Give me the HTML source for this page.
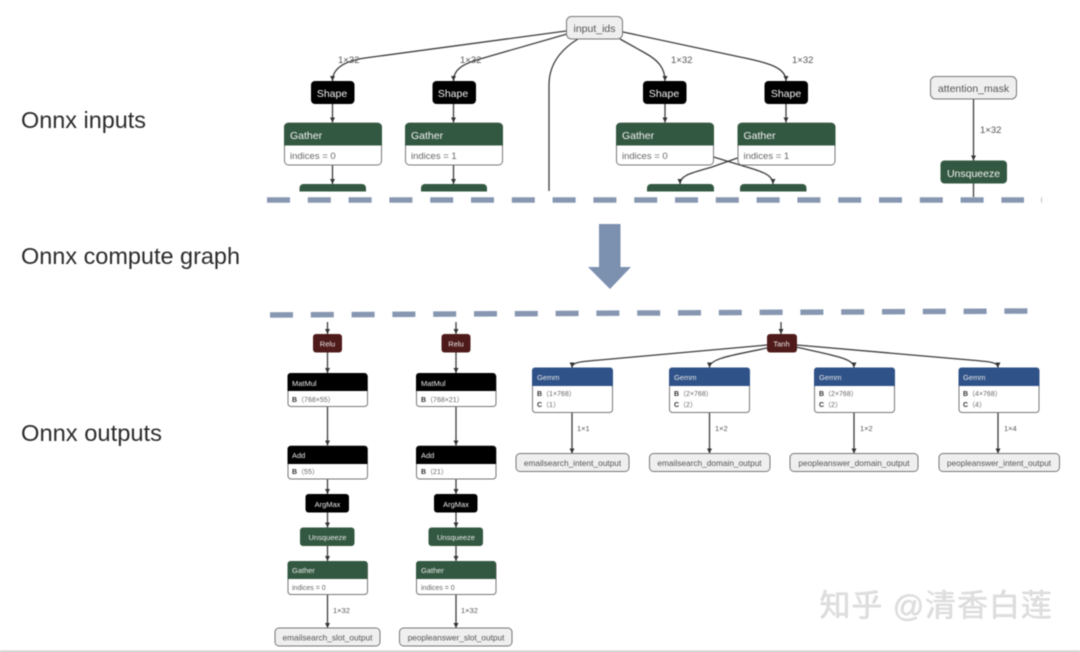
<!DOCTYPE html>
<html><head><meta charset="utf-8"><style>
html,body{margin:0;padding:0;background:#fff;width:1080px;height:652px;overflow:hidden}
#w{position:relative;width:1080px;height:652px;overflow:hidden;filter:blur(.4px)}
svg{position:absolute;left:0;top:0}
text{font-family:"Liberation Sans","Noto Sans CJK SC",sans-serif}
.h{font-size:23px;fill:#2b2b2b}
.e{fill:none;stroke:#3c3c3c;stroke-width:1.3}
.lb{font-size:9.5px;fill:#555}
.wt{font-size:10.5px;fill:#f2f2f2}
.gt{font-size:9.5px;fill:#666}
.st{font-size:7.5px;fill:#e8e8e8}
.ss{font-size:7px;fill:#666}
.mid{text-anchor:middle}
.io{fill:#efefef;stroke:#777;stroke-width:1}
.ol{font-size:8.3px;fill:#555;text-anchor:middle}
.in{font-size:10.5px;fill:#555;text-anchor:middle}
#wm{position:absolute;left:819px;top:586px;font:31px/40px "Liberation Sans","Noto Sans CJK SC",sans-serif;color:#dfdfdf;text-shadow:.6px .6px 0 #cfcfcf;white-space:nowrap;letter-spacing:.9px}
</style></head><body><div id="w">
<svg width="1080" height="652" viewBox="0 0 1080 652">
<defs>
<marker id="a" markerUnits="userSpaceOnUse" markerWidth="6" markerHeight="5" refX="5" refY="2.500" orient="auto"><path d="M0 0L5 2.500L0 5z" fill="#333"/></marker>
</defs>

<text class="h" x="21" y="128" textLength="125" lengthAdjust="spacingAndGlyphs">Onnx inputs</text>
<text class="h" x="21" y="264" textLength="219" lengthAdjust="spacingAndGlyphs">Onnx compute graph</text>
<text class="h" x="21" y="441" textLength="141" lengthAdjust="spacingAndGlyphs">Onnx outputs</text>

<!-- top edges -->
<g class="e">
<path marker-end="url(#a)" d="M566 31L365 58C345 61 332.500 68 332.500 81"/>
<path marker-end="url(#a)" d="M567 34L480 59C462 64 453.500 70 453.500 81"/>
<path d="M578 39C560 50 549 65 549 85V191"/>
<path marker-end="url(#a)" d="M620 39L645 53C658 60 665 68 665 81"/>
<path marker-end="url(#a)" d="M623 32L740 57C770 63 786 68 786 81"/>
<path marker-end="url(#a)" d="M332.500 104V122.500"/>
<path marker-end="url(#a)" d="M453.500 104V122.500"/>
<path marker-end="url(#a)" d="M665 104V122.500"/>
<path marker-end="url(#a)" d="M786 104V122.500"/>
<path marker-end="url(#a)" d="M332.500 165V184"/>
<path marker-end="url(#a)" d="M453.500 165V184"/>
<path marker-end="url(#a)" d="M713.500 157L740 165C760 171 773 174 773 184"/>
<path marker-end="url(#a)" d="M737.500 158L712 167C692 173 680 175 680 184"/>
<path marker-end="url(#a)" d="M973.500 99V160.500"/>
<path d="M973.500 183.500V197"/>
</g>
<g class="lb">
<text x="338" y="63">1×32</text><text x="460" y="63">1×32</text><text x="671" y="63">1×32</text><text x="792" y="63">1×32</text><text x="980" y="133">1×32</text>
</g>

<!-- top nodes -->
<rect class="io" x="566.500" y="16.500" width="56" height="22.500" rx="5"/><text class="in" x="594.500" y="32">input_ids</text>
<rect class="io" x="930.500" y="76.500" width="86" height="22.500" rx="5"/><text class="in" x="973.500" y="92">attention_mask</text>

<g fill="#000">
<rect x="311" y="81" width="43.500" height="23" rx="4"/><rect x="432.500" y="81" width="43.500" height="23" rx="4"/><rect x="643" y="81" width="43.500" height="23" rx="4"/><rect x="764.500" y="81" width="43.500" height="23" rx="4"/>
</g>
<g class="wt mid" fill="#eee">
<text class="wt mid" x="332" y="97">Shape</text><text class="wt mid" x="453" y="97">Shape</text><text class="wt mid" x="664" y="97">Shape</text><text class="wt mid" x="786" y="97">Shape</text>
</g>

<g>
<rect x="284.500" y="123" width="97" height="42" rx="4" fill="#fff" stroke="#777"/><path d="M284 145.500V127a4 4 0 0 1 4-4h90a4 4 0 0 1 4 4v18.500z" fill="#335841"/>
<rect x="405.500" y="123" width="97" height="42" rx="4" fill="#fff" stroke="#777"/><path d="M405 145.500V127a4 4 0 0 1 4-4h90a4 4 0 0 1 4 4v18.500z" fill="#335841"/>
<rect x="616.500" y="123" width="97" height="42" rx="4" fill="#fff" stroke="#777"/><path d="M616 145.500V127a4 4 0 0 1 4-4h90a4 4 0 0 1 4 4v18.500z" fill="#335841"/>
<rect x="738" y="123" width="97" height="42" rx="4" fill="#fff" stroke="#777"/><path d="M737.500 145.500V127a4 4 0 0 1 4-4h90a4 4 0 0 1 4 4v18.500z" fill="#335841"/>
</g>
<g class="wt">
<text x="290" y="139">Gather</text><text x="411" y="139">Gather</text><text x="622" y="139">Gather</text><text x="743.500" y="139">Gather</text>
</g>
<g class="gt">
<text x="290" y="159">indices = 0</text><text x="411" y="159">indices = 1</text><text x="622" y="159">indices = 0</text><text x="743.500" y="159">indices = 1</text>
</g>
<g fill="#335841">
<path d="M299.500 191.500V188a4 4 0 0 1 4-4h58.500a4 4 0 0 1 4 4v3.500z"/>
<path d="M421 191.500V188a4 4 0 0 1 4-4h58a4 4 0 0 1 4 4v3.500z"/>
<path d="M647 191.500V188a4 4 0 0 1 4-4h59a4 4 0 0 1 4 4v3.500z"/>
<path d="M740 191.500V188a4 4 0 0 1 4-4h58.500a4 4 0 0 1 4 4v3.500z"/>
<rect x="940.500" y="160.500" width="66.500" height="23" rx="4"/>
</g>
<text class="wt mid" x="973.500" y="177">Unsqueeze</text>

<!-- dashes -->
<line x1="267" y1="200" x2="1024" y2="200" stroke="#8797b1" stroke-width="5.500" stroke-dasharray="23 17.800"/>
<rect x="1041" y="197.500" width="1" height="5" fill="#b5bfd0"/>
<line x1="270" y1="315" x2="1028" y2="311" stroke="#8797b1" stroke-width="5.500" stroke-dasharray="23 17.800"/>

<!-- big arrow -->
<path d="M599 224H620.500V267H631L610 289L588 267H599z" fill="#7c90b0"/>

<!-- bottom edges -->
<g class="e" stroke-width="1.200">
<path marker-end="url(#a)" d="M327.500 322V334"/><path marker-end="url(#a)" d="M456 322V334"/><path marker-end="url(#a)" d="M781 322V334"/>
<path marker-end="url(#a)" d="M327.500 352V373"/><path marker-end="url(#a)" d="M456 352V373"/>
<path marker-end="url(#a)" d="M327.500 406V445.500"/><path marker-end="url(#a)" d="M456 406V445.500"/>
<path marker-end="url(#a)" d="M327.500 479V494"/><path marker-end="url(#a)" d="M456 479V494"/>
<path marker-end="url(#a)" d="M327.500 512V527.500"/><path marker-end="url(#a)" d="M456 512V527.500"/>
<path marker-end="url(#a)" d="M327.500 546V561"/><path marker-end="url(#a)" d="M456 546V561"/>
<path marker-end="url(#a)" d="M327.500 594V628"/><path marker-end="url(#a)" d="M456 594V628"/>
<path marker-end="url(#a)" d="M767 345L600 360C582 361.500 572 362 572 367.500"/>
<path marker-end="url(#a)" d="M767 348C735 355 709.500 358 709.500 367.500"/>
<path marker-end="url(#a)" d="M796 347C830 355 854 358 854 367.500"/>
<path marker-end="url(#a)" d="M797 345L970 360C988 361.500 998 362 998 367.500"/>
<path marker-end="url(#a)" d="M572 412V453.500"/><path marker-end="url(#a)" d="M709.500 412V453.500"/><path marker-end="url(#a)" d="M854 412V453.500"/><path marker-end="url(#a)" d="M998 412V453.500"/>
</g>

<!-- relu / tanh -->
<g fill="#4f1b1a">
<rect x="313" y="334" width="29" height="18.500" rx="3"/><rect x="441.500" y="334" width="29" height="18.500" rx="3"/><rect x="767" y="334" width="30" height="18.500" rx="3"/>
</g>
<g class="st mid">
<text class="st mid" x="327.500" y="346.500">Relu</text><text class="st mid" x="456" y="346.500">Relu</text><text class="st mid" x="781.500" y="346.500">Tanh</text>
</g>

<!-- matmul / add -->
<g fill="#fff" stroke="#777">
<rect x="288" y="374" width="79.500" height="32.500" rx="3"/><rect x="416.500" y="374" width="79.500" height="32.500" rx="3"/>
<rect x="288" y="446" width="79.500" height="33" rx="3"/><rect x="416.500" y="446" width="79.500" height="33" rx="3"/>
<rect x="288" y="561.500" width="79.500" height="33" rx="3"/><rect x="416.500" y="561.500" width="79.500" height="33" rx="3"/>
</g>
<g fill="#000">
<path d="M287.500 391V376a3 3 0 0 1 3-3h74a3 3 0 0 1 3 3v15z"/><path d="M416 391V376a3 3 0 0 1 3-3h74a3 3 0 0 1 3 3v15z"/>
<path d="M287.500 464V449a3 3 0 0 1 3-3h74a3 3 0 0 1 3 3v15z"/><path d="M416 464V449a3 3 0 0 1 3-3h74a3 3 0 0 1 3 3v15z"/>
<rect x="305.500" y="494" width="43.500" height="18.500" rx="3"/><rect x="434" y="494" width="43.500" height="18.500" rx="3"/>
</g>
<g fill="#335841">
<rect x="300" y="527.500" width="54.500" height="18.500" rx="3"/><rect x="428.500" y="527.500" width="54.500" height="18.500" rx="3"/>
<path d="M287.500 579V564a3 3 0 0 1 3-3h74a3 3 0 0 1 3 3v15z"/><path d="M416 579V564a3 3 0 0 1 3-3h74a3 3 0 0 1 3 3v15z"/>
</g>
<g class="st">
<text class="st" x="292" y="386">MatMul</text><text class="st" x="421" y="386">MatMul</text>
<text class="st" x="292" y="458">Add</text><text class="st" x="421" y="458">Add</text>
<text class="st" x="292" y="573">Gather</text><text class="st" x="421" y="573">Gather</text>
<text class="st mid" x="327.500" y="507">ArgMax</text><text class="st mid" x="456" y="507">ArgMax</text>
<text class="st mid" x="327.500" y="540">Unsqueeze</text><text class="st mid" x="456" y="540">Unsqueeze</text>
</g>
<g class="ss">
<text class="ss" x="292" y="402"><tspan font-weight="bold" fill="#333">B</tspan>（768×55）</text>
<text class="ss" x="421" y="402"><tspan font-weight="bold" fill="#333">B</tspan>（768×21）</text>
<text class="ss" x="292" y="474"><tspan font-weight="bold" fill="#333">B</tspan>（55）</text>
<text class="ss" x="421" y="474"><tspan font-weight="bold" fill="#333">B</tspan>（21）</text>
<text class="ss" x="292" y="590">indices = 0</text>
<text class="ss" x="421" y="590">indices = 0</text>
</g>

<!-- gemm -->
<g fill="#fff" stroke="#777">
<rect x="532.500" y="368" width="80" height="44.500" rx="3"/><rect x="669.500" y="368" width="80" height="44.500" rx="3"/><rect x="814.500" y="368" width="80" height="44.500" rx="3"/><rect x="959" y="368" width="80" height="44.500" rx="3"/>
</g>
<g fill="#2f5288">
<path d="M532 386V370.500a3 3 0 0 1 3-3h75a3 3 0 0 1 3 3V386z"/>
<path d="M669 386V370.500a3 3 0 0 1 3-3h75a3 3 0 0 1 3 3V386z"/>
<path d="M814 386V370.500a3 3 0 0 1 3-3h75a3 3 0 0 1 3 3V386z"/>
<path d="M958.500 386V370.500a3 3 0 0 1 3-3h75a3 3 0 0 1 3 3V386z"/>
</g>
<g>
<text class="st" x="537" y="380">Gemm</text><text class="st" x="674" y="380">Gemm</text><text class="st" x="819" y="380">Gemm</text><text class="st" x="963" y="380">Gemm</text>
</g>
<g class="ss">
<text class="ss" x="537" y="396"><tspan font-weight="bold" fill="#333">B</tspan>（1×768）</text><text class="ss" x="537" y="407"><tspan font-weight="bold" fill="#333">C</tspan>（1）</text>
<text class="ss" x="674" y="396"><tspan font-weight="bold" fill="#333">B</tspan>（2×768）</text><text class="ss" x="674" y="407"><tspan font-weight="bold" fill="#333">C</tspan>（2）</text>
<text class="ss" x="819" y="396"><tspan font-weight="bold" fill="#333">B</tspan>（2×768）</text><text class="ss" x="819" y="407"><tspan font-weight="bold" fill="#333">C</tspan>（2）</text>
<text class="ss" x="963" y="396"><tspan font-weight="bold" fill="#333">B</tspan>（4×768）</text><text class="ss" x="963" y="407"><tspan font-weight="bold" fill="#333">C</tspan>（4）</text>
</g>
<g fill="#555">
<text x="577" y="431" style="font-size:7.500px">1×1</text><text x="715" y="431" style="font-size:7.500px">1×2</text><text x="860" y="431" style="font-size:7.500px">1×2</text><text x="1004" y="431" style="font-size:7.500px">1×4</text>
<text x="333" y="613" style="font-size:7.500px">1×32</text><text x="461" y="613" style="font-size:7.500px">1×32</text>
</g>

<!-- outputs -->
<rect class="io" x="516" y="453.500" width="113" height="18" rx="4"/><text class="ol" x="572.500" y="466">emailsearch_intent_output</text>
<rect class="io" x="649.500" y="453.500" width="120.500" height="18" rx="4"/><text class="ol" x="709.500" y="466">emailsearch_domain_output</text>
<rect class="io" x="790" y="453.500" width="128" height="18" rx="4"/><text class="ol" x="854" y="466">peopleanswer_domain_output</text>
<rect class="io" x="939" y="453.500" width="120.500" height="18" rx="4"/><text class="ol" x="999" y="466">peopleanswer_intent_output</text>
<rect class="io" x="275" y="628" width="105" height="18" rx="4"/><text class="ol" x="327.500" y="640.500">emailsearch_slot_output</text>
<rect class="io" x="399.500" y="628" width="112.500" height="18" rx="4"/><text class="ol" x="456" y="640.500">peopleanswer_slot_output</text>

<rect x="0" y="650.500" width="1080" height="1.500" fill="#c9c9c9"/>
</svg>
<div id="wm">知乎 @清香白莲</div>
</div></body></html>
